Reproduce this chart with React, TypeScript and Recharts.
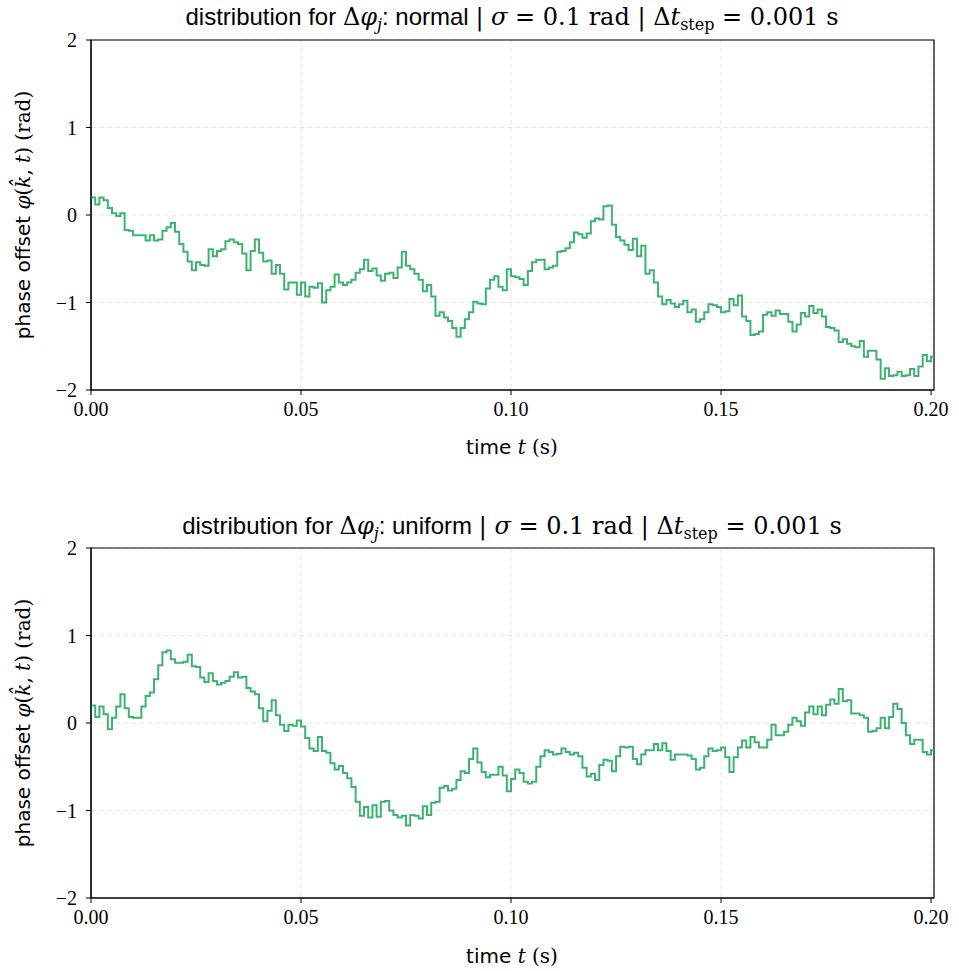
import React from "react";
import { LineChart, Line, XAxis, YAxis, CartesianGrid, ReferenceArea } from "recharts";

// phase offset per time step (dt = 0.001 s)
const normalPhase = [
  0.2, 0.12, 0.2, 0.17, 0.08, 0.02, -0.01, 0.02, -0.17, -0.18,
  -0.23, -0.23, -0.23, -0.29, -0.23, -0.29, -0.28, -0.18, -0.14, -0.09,
  -0.19, -0.33, -0.42, -0.53, -0.63, -0.54, -0.57, -0.58, -0.39, -0.47,
  -0.41, -0.39, -0.3, -0.28, -0.31, -0.33, -0.44, -0.63, -0.41, -0.28,
  -0.43, -0.53, -0.52, -0.67, -0.57, -0.67, -0.85, -0.77, -0.77, -0.91,
  -0.77, -0.93, -0.82, -0.83, -0.78, -1.0, -0.86, -0.82, -0.68, -0.77,
  -0.8, -0.77, -0.74, -0.66, -0.62, -0.51, -0.64, -0.61, -0.69, -0.75,
  -0.67, -0.66, -0.72, -0.6, -0.42, -0.58, -0.62, -0.67, -0.74, -0.87,
  -0.8, -0.93, -1.15, -1.11, -1.17, -1.21, -1.29, -1.39, -1.29, -1.19,
  -1.11, -0.99, -1.01, -1.02, -0.84, -0.74, -0.7, -0.82, -0.86, -0.62,
  -0.7, -0.71, -0.73, -0.8, -0.64, -0.54, -0.51, -0.51, -0.62, -0.6,
  -0.58, -0.42, -0.41, -0.38, -0.31, -0.2, -0.22, -0.26, -0.21, -0.07,
  -0.04, -0.05, 0.1, 0.11, -0.11, -0.25, -0.29, -0.34, -0.4, -0.27,
  -0.47, -0.35, -0.67, -0.63, -0.77, -0.93, -1.02, -0.97, -1.01, -1.05,
  -1.02, -0.98, -1.11, -1.08, -1.22, -1.19, -1.11, -1.02, -1.03, -1.05,
  -1.11, -1.1, -0.96, -1.03, -0.92, -1.16, -1.21, -1.37, -1.36, -1.33,
  -1.14, -1.11, -1.15, -1.09, -1.13, -1.13, -1.22, -1.33, -1.25, -1.12,
  -1.16, -1.04, -1.12, -1.08, -1.16, -1.28, -1.29, -1.32, -1.45, -1.42,
  -1.47, -1.5, -1.51, -1.44, -1.62, -1.55, -1.55, -1.65, -1.87, -1.75,
  -1.84, -1.83, -1.79, -1.84, -1.83, -1.76, -1.84, -1.73, -1.6, -1.67,
  -1.62,
];

const uniformPhase = [
  0.2, 0.07, 0.19, 0.1, -0.07, 0.06, 0.19, 0.33, 0.17, 0.07,
  0.06, 0.06, 0.19, 0.31, 0.35, 0.5, 0.66, 0.81, 0.83, 0.73,
  0.69, 0.69, 0.7, 0.78, 0.65, 0.64, 0.52, 0.47, 0.57, 0.48,
  0.44, 0.46, 0.48, 0.53, 0.58, 0.52, 0.53, 0.4, 0.36, 0.33,
  0.17, 0.02, 0.14, 0.26, 0.09, -0.02, -0.09, -0.02, -0.03, 0.03,
  -0.04, -0.17, -0.29, -0.32, -0.16, -0.32, -0.34, -0.46, -0.53, -0.49,
  -0.57, -0.63, -0.73, -0.9, -1.06, -0.96, -1.08, -0.94, -1.07, -0.9,
  -0.89, -1.0, -1.05, -1.08, -1.06, -1.17, -1.05, -1.06, -1.09, -0.95,
  -1.05, -0.91, -0.9, -0.74, -0.72, -0.77, -0.75, -0.65, -0.55, -0.57,
  -0.41, -0.29, -0.45, -0.56, -0.62, -0.59, -0.59, -0.5, -0.6, -0.78,
  -0.64, -0.53, -0.57, -0.67, -0.69, -0.67, -0.5, -0.38, -0.31, -0.33,
  -0.36, -0.35, -0.29, -0.33, -0.36, -0.34, -0.38, -0.51, -0.61, -0.58,
  -0.65, -0.48, -0.42, -0.43, -0.55, -0.38, -0.27, -0.28, -0.27, -0.41,
  -0.47, -0.36, -0.31, -0.31, -0.24, -0.31, -0.23, -0.32, -0.42, -0.36,
  -0.36, -0.36, -0.37, -0.41, -0.53, -0.51, -0.38, -0.29, -0.32, -0.31,
  -0.28, -0.39, -0.56, -0.39, -0.28, -0.2, -0.28, -0.16, -0.22, -0.28,
  -0.28, -0.19, -0.02, -0.14, -0.14, -0.1, -0.02, 0.06, 0.02, -0.03,
  0.12, 0.19, 0.1, 0.19, 0.09, 0.21, 0.27, 0.22, 0.39, 0.25,
  0.26, 0.11, 0.11, 0.09, 0.06, -0.1, -0.09, -0.06, 0.06, -0.06,
  0.07, 0.22, 0.16, 0.0, -0.14, -0.24, -0.19, -0.19, -0.33, -0.36,
  -0.31,
];

const DT = 0.001;
const X_MAX = 0.2007;
const xTicks = [0, 0.05, 0.1, 0.15, 0.2];
const yTicks = [-2, -1, 0, 1, 2];

const GREEN = "#3cb371";
const SERIF = "'Liberation Serif', 'DejaVu Serif', serif";
const MATH = "'DejaVu Serif', 'Liberation Serif', serif";
const SANS = "'Liberation Sans', 'DejaVu Sans', sans-serif";
const LABEL_SANS = "'DejaVu Sans', 'Liberation Sans', sans-serif";

function toData(values: number[]) {
  const rows = values.map((v, i) => ({ t: i * DT, v }));
  // hold the last step to the right edge of the axes
  rows.push({ t: X_MAX, v: values[values.length - 1] });
  return rows;
}

const fmtY = (v: number) => (v < 0 ? `\u2212${Math.abs(v)}` : String(v));
const tickStyle = { fontFamily: SERIF, fontSize: 20, fill: "#000" };

function PhasePanel({ values }: { values: number[] }) {
  return (
    <LineChart
      width={959}
      height={480}
      data={toData(values)}
      margin={{ top: 40, right: 25, left: 31, bottom: 60 }}
    >
      <CartesianGrid stroke="#e6e6e6" strokeDasharray="5 3" />
      <XAxis
        dataKey="t"
        type="number"
        domain={[0, X_MAX]}
        allowDataOverflow
        ticks={xTicks}
        tickFormatter={(v: number) => v.toFixed(2)}
        tick={tickStyle}
        tickSize={5}
        tickMargin={7}
        height={30}
        stroke="#000"
        tickLine={{ stroke: "#000" }}
      />
      <YAxis
        type="number"
        domain={[-2, 2]}
        ticks={yTicks}
        tickFormatter={fmtY}
        tick={tickStyle}
        tickSize={5}
        tickMargin={9}
        width={60}
        stroke="#000"
        tickLine={{ stroke: "#000" }}
      />
      <ReferenceArea x1={0} x2={X_MAX} y1={-2} y2={2} fill="none" stroke="#000" strokeWidth={1.2} />
      <Line
        type="stepAfter"
        dataKey="v"
        stroke={GREEN}
        strokeWidth={2}
        dot={false}
        isAnimationActive={false}
      />
    </LineChart>
  );
}

function Title({ y, kind }: { y: number; kind: string }) {
  return (
    <text x={512} y={y} textAnchor="middle" fontSize={24} fill="#000">
      <tspan fontFamily={SANS}>distribution for </tspan>
      <tspan fontFamily={MATH}>Δ</tspan>
      <tspan fontFamily={MATH} fontStyle="italic">φ</tspan>
      <tspan fontFamily={MATH} fontStyle="italic" fontSize={16} dy={5}>j</tspan>
      <tspan fontFamily={SANS} dy={-5}>: {kind} </tspan>
      <tspan fontFamily={MATH}>| </tspan>
      <tspan fontFamily={MATH} fontStyle="italic">σ</tspan>
      <tspan fontFamily={MATH}> = 0.1 rad | Δ</tspan>
      <tspan fontFamily={MATH} fontStyle="italic">t</tspan>
      <tspan fontFamily={MATH} fontSize={16} dy={5}>step</tspan>
      <tspan fontFamily={MATH} dy={-5}> = 0.001 s</tspan>
    </text>
  );
}

function XLabel({ y }: { y: number }) {
  return (
    <text x={512} y={y} textAnchor="middle" fontSize={20} fill="#000">
      <tspan fontFamily={LABEL_SANS}>time </tspan>
      <tspan fontFamily={MATH} fontStyle="italic">t</tspan>
      <tspan fontFamily={MATH}> (s)</tspan>
    </text>
  );
}

function YLabel({ cy }: { cy: number }) {
  return (
    <text
      x={0}
      y={0}
      transform={`translate(30, ${cy}) rotate(-90)`}
      textAnchor="middle"
      fontSize={20}
      fill="#000"
    >
      <tspan fontFamily={LABEL_SANS}>phase offset </tspan>
      <tspan fontFamily={MATH} fontStyle="italic">φ</tspan>
      <tspan fontFamily={MATH}>(</tspan>
      <tspan fontFamily={MATH} fontStyle="italic">k̂</tspan>
      <tspan fontFamily={MATH}>, </tspan>
      <tspan fontFamily={MATH} fontStyle="italic">t</tspan>
      <tspan fontFamily={MATH}>) (rad)</tspan>
    </text>
  );
}

export default function App() {
  return (
    <div style={{ position: "absolute", left: 0, top: 0, width: 959, height: 971, background: "#fff" }}>
      <div style={{ position: "absolute", left: 0, top: 0 }}>
        <PhasePanel values={normalPhase} />
      </div>
      <div style={{ position: "absolute", left: 0, top: 508 }}>
        <PhasePanel values={uniformPhase} />
      </div>
      <svg
        width={959}
        height={971}
        style={{ position: "absolute", left: 0, top: 0, pointerEvents: "none" }}
      >
        <Title y={25} kind="normal" />
        <XLabel y={454} />
        <YLabel cy={215} />
        <Title y={534} kind="uniform" />
        <XLabel y={963} />
        <YLabel cy={723} />
      </svg>
    </div>
  );
}
